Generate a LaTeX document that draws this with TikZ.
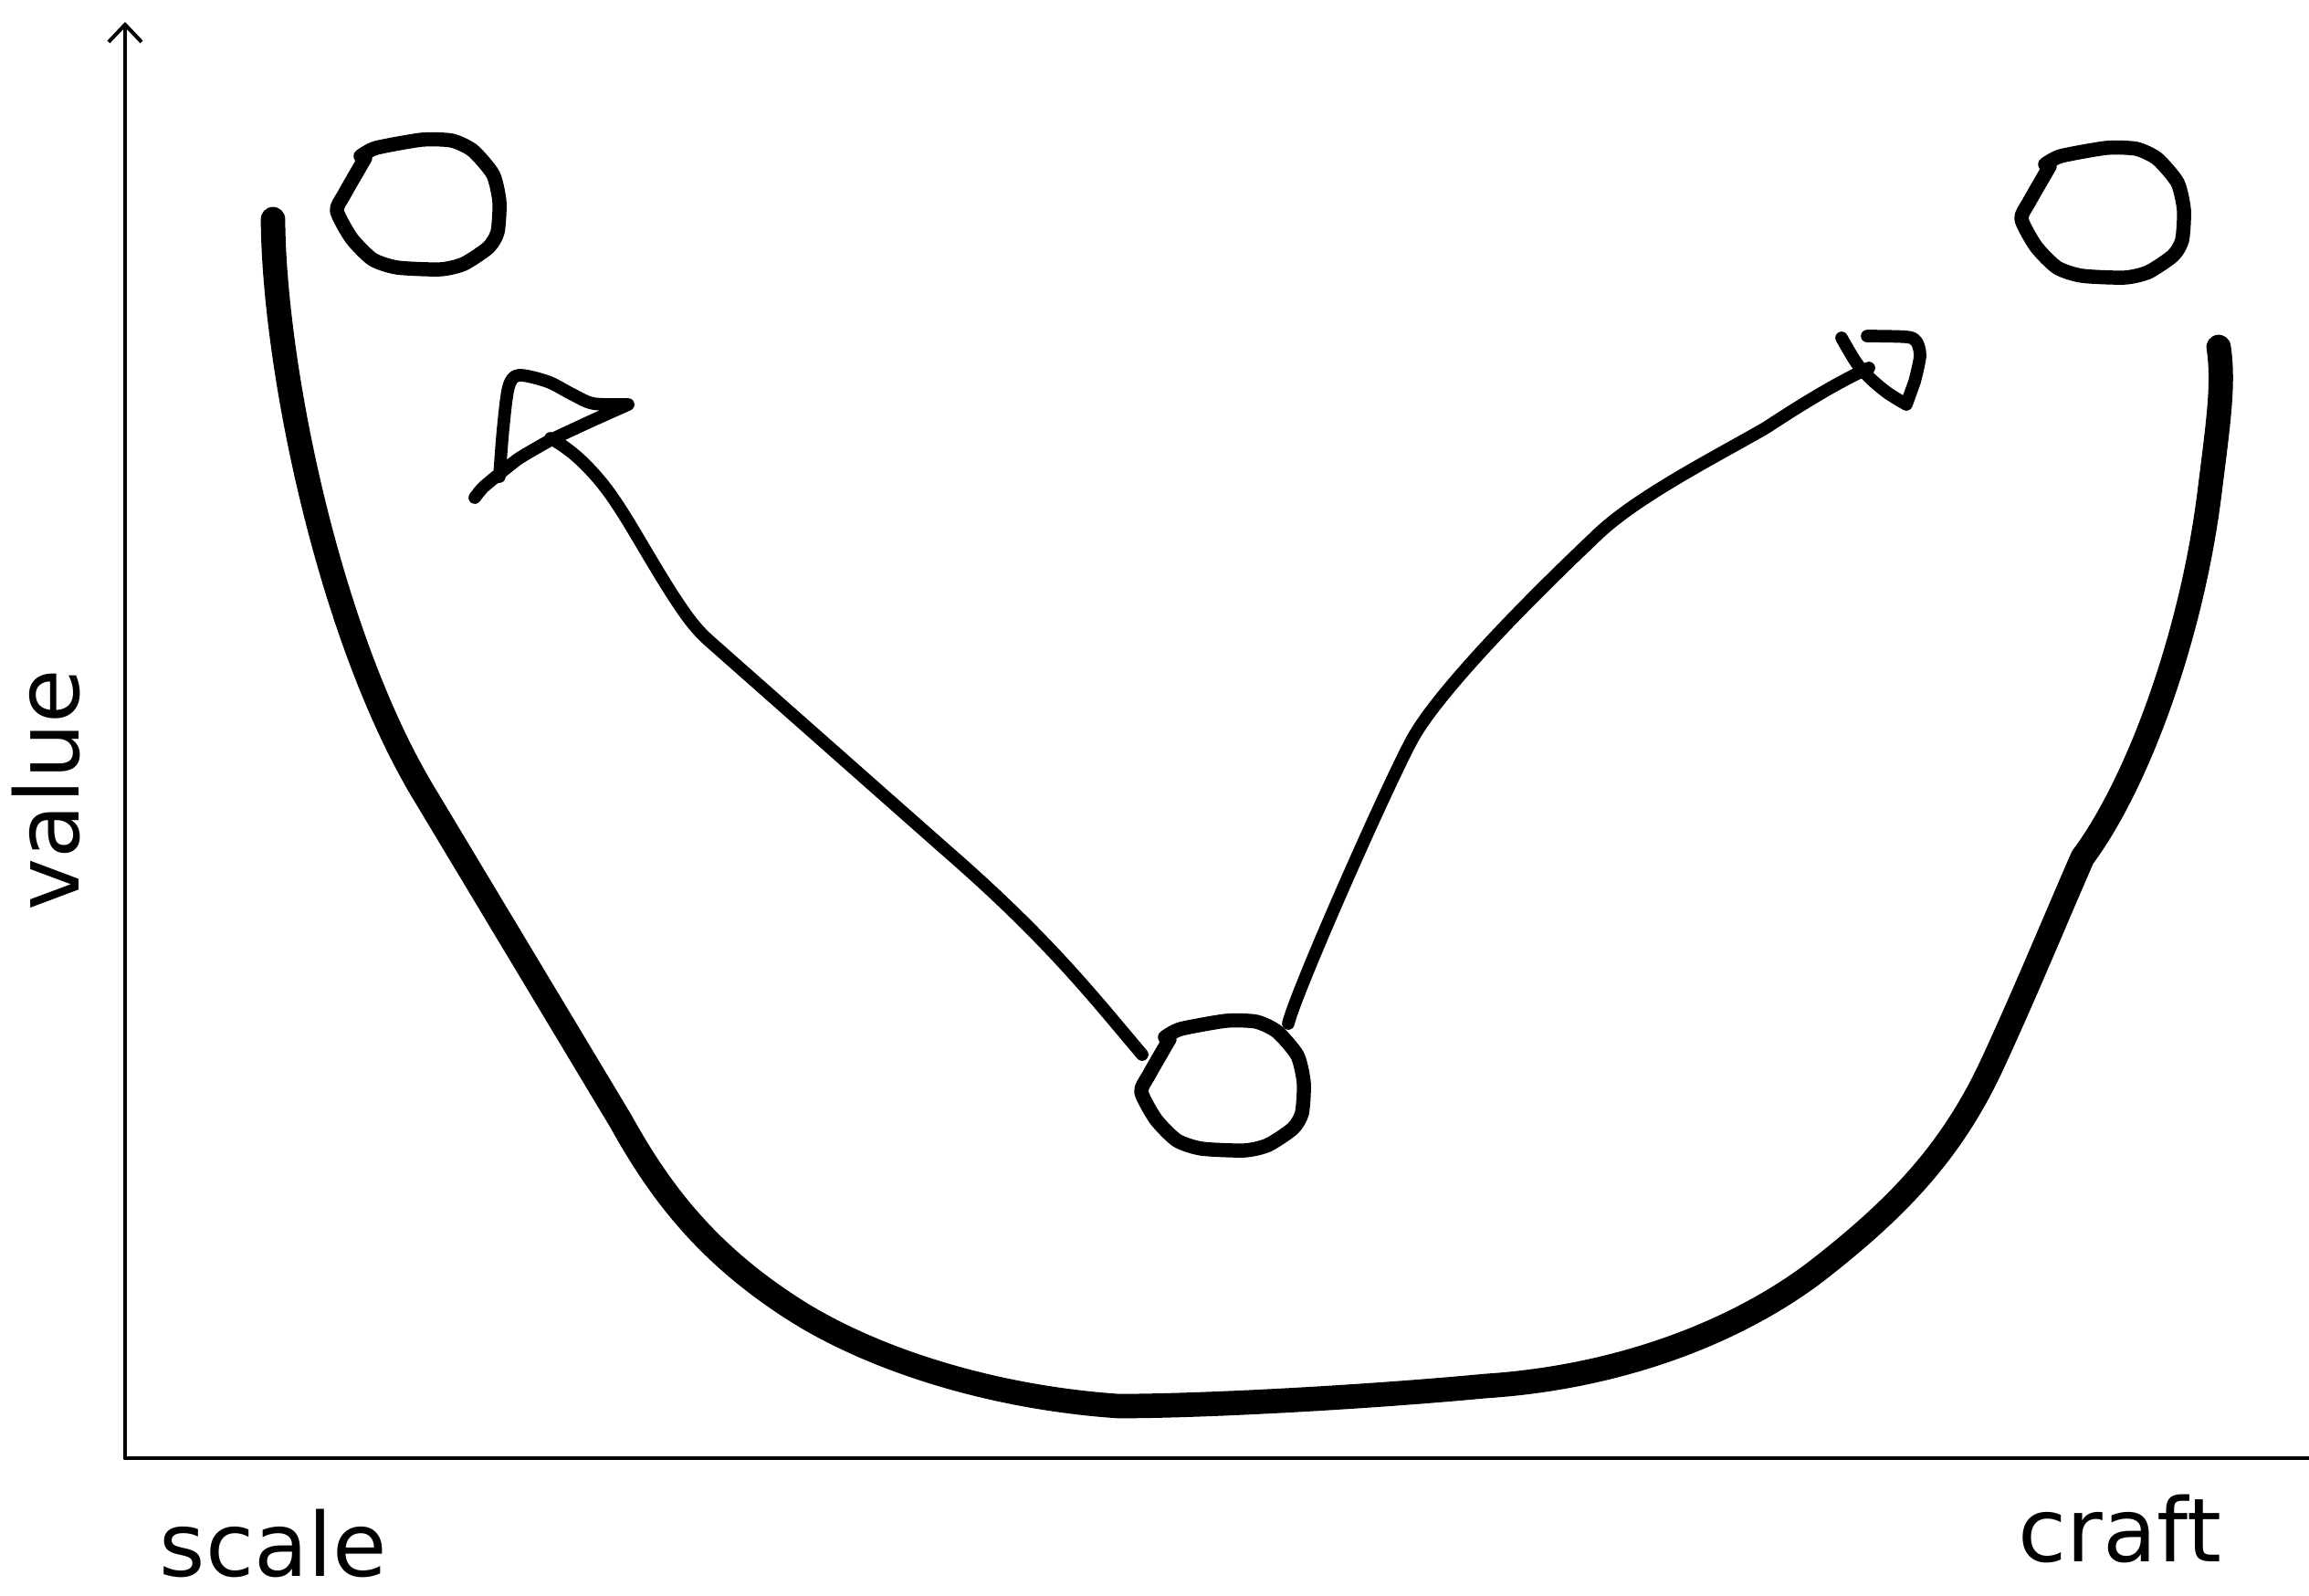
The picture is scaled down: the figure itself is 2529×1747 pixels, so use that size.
\documentclass[tikz,border=0pt]{standalone}
\usepackage{fontspec}
\setmainfont{DejaVu Sans}
\usetikzlibrary{arrows.meta}

\begin{document}
\begin{tikzpicture}[x=0.01cm, y=-0.01cm,
  axisline/.style={line width=1.15pt, line cap=round},
  arrowline/.style={line width=3.9pt, line cap=round, line join=round},
  blobline/.style={line width=4.4pt, line cap=round, line join=round},
  valleyline/.style={line width=7.6pt, line cap=round, line join=round},
  axislabel/.style={font=\fontsize{27.5}{33}\selectfont, inner sep=0pt},
  blob/.pic={\draw[blobline] plot[smooth, tension=0.4] coordinates {(27,18) (44,9) (94,0) (127,1) (150,12) (172,38) (179,68) (177,101) (167,118) (140,136) (114,142) (67,140) (40,131) (17,108) (1,78) (9,60) (32,20)};}]
  \useasboundingbox (0,0) rectangle (2529,1747);

  % Axes
  \coordinate (origin) at (137,1597);
  \coordinate (ytop) at (137,24);
  \coordinate (xend) at (2529,1597);
  \draw[axisline, -{Straight Barb[length=0.19cm, width=0.36cm]}] (origin) -- (ytop);
  \draw[axisline] (origin) -- (xend);
  \node[axislabel, rotate=90, anchor=base west] (value) at (87,998) {value};
  \node[axislabel, anchor=base west] (scale) at (174,1726) {scale};
  \node[axislabel, anchor=base west] (craft) at (2210,1710) {craft};

  % The valley between scale and craft
  \draw[valleyline] (299,240) .. controls (300,400) and (360,700) .. (468,875)
    -- (680,1228) .. controls (720,1300) and (770,1370) .. (868,1433)
    .. controls (950,1486) and (1080,1530) .. (1225,1540)
    .. controls (1320,1540) and (1500,1530) .. (1627,1518)
    .. controls (1780,1508) and (1910,1455) .. (1995,1388)
    .. controls (2075,1325) and (2135,1265) .. (2180,1170)
    .. controls (2215,1095) and (2250,1010) .. (2281,939)
    .. controls (2340,860) and (2400,700) .. (2420,540)
    .. controls (2430,460) and (2436,420) .. (2430,380);

  % Blobs
  \pic (lefttop) at (368,153) {blob};
  \pic (righttop) at (2213,162) {blob};
  \pic (bottom) at (1249,1118) {blob};

  % Path back towards scale
  \coordinate (leftstart) at (1251,1155);
  \coordinate (lefttip) at (603,480);
  \draw[arrowline] (leftstart) .. controls (1200,1095) and (1150,1030) .. (1036,931)
    -- (778,703) .. controls (762,689) and (752,675) .. (737,652)
    .. controls (705,602) and (684,560) .. (660,530)
    .. controls (638,503) and (621,490) .. (lefttip);
  \draw[arrowline] plot[smooth, tension=0.5] coordinates {(547,522) (551,470) (557,424) (568,411) (600,418) (627,432) (650,442) (688,443)} -- plot[smooth, tension=0.3] coordinates {(650,460) (603,482) (567,503) (530,533) (520,545)};

  % Path on towards craft
  \coordinate (rightstart) at (1411,1121);
  \coordinate (righttip) at (2047,403);
  \draw[arrowline] (rightstart) .. controls (1420,1085) and (1515,870) .. (1545,813)
    .. controls (1568,768) and (1650,680) .. (1746,589)
    .. controls (1790,545) and (1880,500) .. (1935,468)
    .. controls (1970,445) and (2010,420) .. (righttip);
  \draw[arrowline] plot[smooth, tension=0.5] coordinates {(2017,370) (2033,397) (2048,414) (2067,430) (2088,443)} -- plot[smooth, tension=0.5] coordinates {(2097,418) (2103,390) (2099,374) (2088,369) (2045,368)};
\end{tikzpicture}
\end{document}
